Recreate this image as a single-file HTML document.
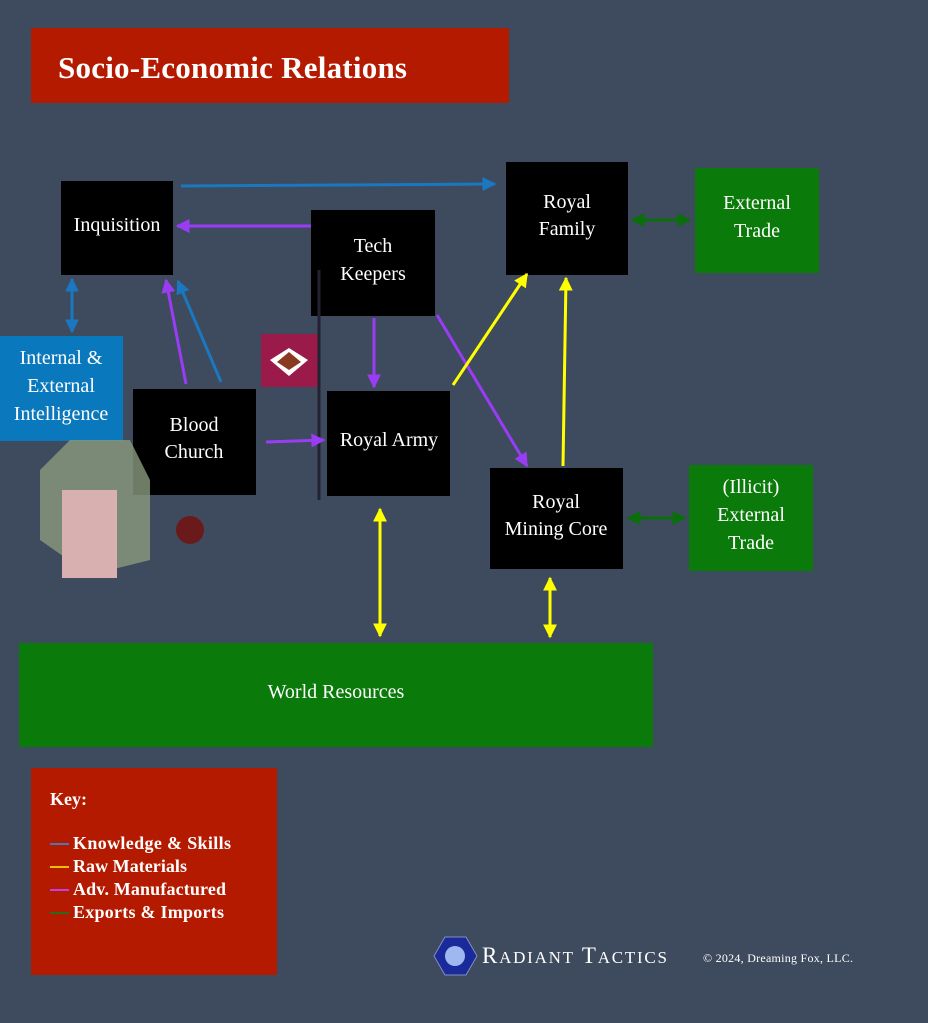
<!DOCTYPE html>
<html><head><meta charset="utf-8"><style>
body{margin:0;background:#3e4a5d;}
svg{display:block;font-family:"Liberation Serif",serif;}
</style></head><body>
<svg width="928" height="1023" viewBox="0 0 928 1023" xmlns="http://www.w3.org/2000/svg">
<defs>
<marker id="b" viewBox="0 0 10 10" refX="9" refY="5" markerWidth="14" markerHeight="14" orient="auto-start-reverse" markerUnits="userSpaceOnUse"><path d="M0,0 L10,5 L0,10z" fill="#1a78c0"/></marker>
<marker id="p" viewBox="0 0 10 10" refX="9" refY="5" markerWidth="14" markerHeight="14" orient="auto-start-reverse" markerUnits="userSpaceOnUse"><path d="M0,0 L10,5 L0,10z" fill="#9b3cf5"/></marker>
<marker id="y" viewBox="0 0 10 10" refX="9" refY="5" markerWidth="14" markerHeight="14" orient="auto-start-reverse" markerUnits="userSpaceOnUse"><path d="M0,0 L10,5 L0,10z" fill="#ffff00"/></marker>
<marker id="g" viewBox="0 0 10 10" refX="9" refY="5" markerWidth="14" markerHeight="14" orient="auto-start-reverse" markerUnits="userSpaceOnUse"><path d="M0,0 L10,5 L0,10z" fill="#0a6e0a"/></marker>
</defs>
<rect x="31" y="28" width="478" height="75" fill="#b31a00"/>
<text x="58" y="78" font-size="31" font-weight="bold" fill="#fff" textLength="349">Socio-Economic Relations</text>

<rect x="61" y="181" width="112" height="94" fill="#000"/>
<text x="117" y="231" font-size="20" fill="#fff" text-anchor="middle">Inquisition</text>
<rect x="311" y="210" width="124" height="106" fill="#000"/>
<text x="373" y="252" font-size="20" fill="#fff" text-anchor="middle">Tech</text>
<text x="373" y="280" font-size="20" fill="#fff" text-anchor="middle">Keepers</text>
<rect x="506" y="162" width="122" height="113" fill="#000"/>
<text x="567" y="208" font-size="20" fill="#fff" text-anchor="middle">Royal</text>
<text x="567" y="235" font-size="20" fill="#fff" text-anchor="middle">Family</text>
<rect x="695" y="168" width="124" height="105" fill="#0a7a0a"/>
<text x="757" y="209" font-size="20" fill="#fff" text-anchor="middle">External</text>
<text x="757" y="237" font-size="20" fill="#fff" text-anchor="middle">Trade</text>
<rect x="0" y="336" width="123" height="105" fill="#0a78bc"/>
<text x="61" y="364" font-size="20" fill="#fff" text-anchor="middle">Internal &amp;</text>
<text x="61" y="392" font-size="20" fill="#fff" text-anchor="middle">External</text>
<text x="61" y="420" font-size="20" fill="#fff" text-anchor="middle">Intelligence</text>
<rect x="133" y="389" width="123" height="106" fill="#000"/>
<text x="194" y="431" font-size="20" fill="#fff" text-anchor="middle">Blood</text>
<text x="194" y="458" font-size="20" fill="#fff" text-anchor="middle">Church</text>
<rect x="327" y="391" width="123" height="105" fill="#000"/>
<text x="389" y="446" font-size="20" fill="#fff" text-anchor="middle">Royal Army</text>
<rect x="490" y="468" width="133" height="101" fill="#000"/>
<text x="556" y="508" font-size="20" fill="#fff" text-anchor="middle">Royal</text>
<text x="556" y="535" font-size="20" fill="#fff" text-anchor="middle">Mining Core</text>
<rect x="689" y="465" width="124" height="106" fill="#0a7a0a"/>
<text x="751" y="493" font-size="20" fill="#fff" text-anchor="middle">(Illicit)</text>
<text x="751" y="521" font-size="20" fill="#fff" text-anchor="middle">External</text>
<text x="751" y="549" font-size="20" fill="#fff" text-anchor="middle">Trade</text>
<rect x="19" y="643" width="634" height="104" fill="#0a7a0a"/>
<text x="336" y="698" font-size="20" fill="#fff" text-anchor="middle">World Resources</text>

<rect x="261" y="334" width="57" height="53" fill="#9a1a4a"/>
<path d="M270,360 L289,348 L308,360 L289,376z" fill="#fff"/>
<path d="M277,362 L289,352 L301,362 L289,370z" fill="#8a3a20"/>
<line x1="319" y1="270" x2="319" y2="500" stroke="#223" stroke-width="3"/>
<path d="M40,470 L70,440 L130,440 L150,480 L150,560 L90,575 L40,540z" fill="#8a9a7e" opacity=".8"/>
<rect x="62" y="490" width="55" height="88" fill="#d8b0b0"/>
<circle cx="190" cy="530" r="14" fill="#6a1a1a"/>

<g fill="none" stroke-width="3">
<line x1="181" y1="186" x2="495" y2="184" stroke="#1a78c0" marker-end="url(#b)"/>
<line x1="311" y1="226" x2="177" y2="226" stroke="#9b3cf5" marker-end="url(#p)"/>
<line x1="72" y1="279" x2="72" y2="332" stroke="#1a78c0" marker-start="url(#b)" marker-end="url(#b)"/>
<line x1="186" y1="384" x2="166" y2="280" stroke="#9b3cf5" marker-end="url(#p)"/>
<line x1="221" y1="382" x2="178" y2="281" stroke="#1a78c0" marker-end="url(#b)"/>
<line x1="374" y1="318" x2="374" y2="387" stroke="#9b3cf5" marker-end="url(#p)"/>
<line x1="266" y1="442" x2="324" y2="440" stroke="#9b3cf5" marker-end="url(#p)"/>
<line x1="437" y1="315" x2="527" y2="466" stroke="#9b3cf5" marker-end="url(#p)"/>
<line x1="453" y1="385" x2="527" y2="274" stroke="#ffff00" marker-end="url(#y)"/>
<line x1="563" y1="466" x2="566" y2="278" stroke="#ffff00" marker-end="url(#y)"/>
<line x1="632" y1="220" x2="690" y2="220" stroke="#0a6e0a" marker-start="url(#g)" marker-end="url(#g)"/>
<line x1="628" y1="518" x2="685" y2="518" stroke="#0a6e0a" marker-start="url(#g)" marker-end="url(#g)"/>
<line x1="380" y1="509" x2="380" y2="636" stroke="#ffff00" marker-start="url(#y)" marker-end="url(#y)"/>
<line x1="550" y1="578" x2="550" y2="637" stroke="#ffff00" marker-start="url(#y)" marker-end="url(#y)"/>
</g>

<rect x="31" y="768" width="246" height="207" fill="#b31a00"/>
<g font-size="18" font-weight="bold" fill="#fff">
<text x="50" y="805">Key:</text>
<text x="73" y="849" textLength="158">Knowledge &amp; Skills</text>
<text x="73" y="872" textLength="114">Raw Materials</text>
<text x="73" y="895" textLength="153">Adv. Manufactured</text>
<text x="73" y="918" textLength="151">Exports &amp; Imports</text>
</g>
<line x1="50" y1="844" x2="69" y2="844" stroke="#4a78b0" stroke-width="2"/>
<line x1="50" y1="867" x2="69" y2="867" stroke="#e8c000" stroke-width="2"/>
<line x1="50" y1="890" x2="69" y2="890" stroke="#c040e0" stroke-width="2"/>
<line x1="50" y1="913" x2="69" y2="913" stroke="#2a6a1a" stroke-width="2"/>

<path d="M445,937 L466,937 L477,956 L466,975 L445,975 L434,956z" fill="#1a2a9a" stroke="#8090c0"/>
<circle cx="455" cy="956" r="10" fill="#a0b8f0"/>
<text x="482" y="963" font-size="23" fill="#fff" textLength="185">R<tspan font-size="17">ADIANT</tspan> T<tspan font-size="17">ACTICS</tspan></text>
<text x="703" y="962" font-size="12" fill="#fff" textLength="150">© 2024, Dreaming Fox, LLC.</text>
</svg>
</body></html>
